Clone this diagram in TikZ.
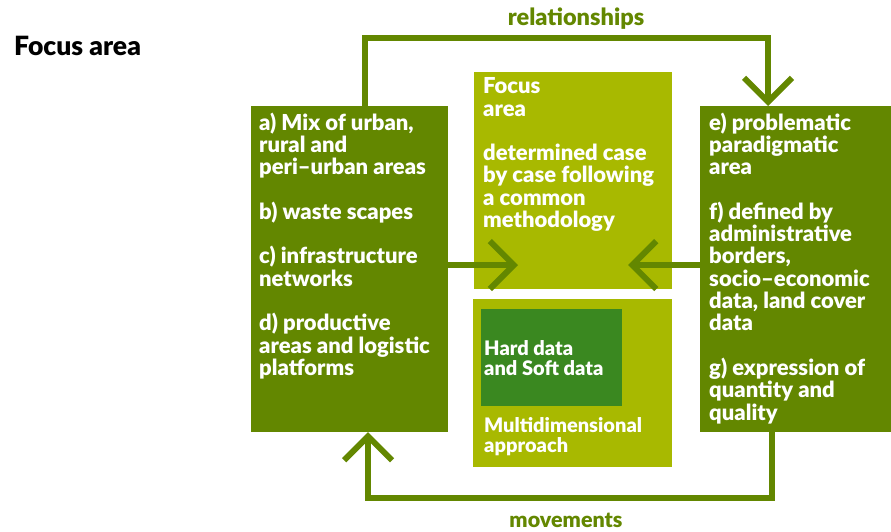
\documentclass[tikz,border=0pt]{standalone}
\usepackage{fontspec}
\setmainfont{Lato}[BoldFont={Lato Black}]
\usetikzlibrary{arrows.meta}
\definecolor{dk}{RGB}{99,135,0}
\definecolor{lt}{RGB}{168,185,0}
\definecolor{gr}{RGB}{58,136,32}
\tikzset{
  box/.style={draw=none, inner sep=0pt, outer sep=0pt, anchor=north west},
  txt/.style={inner sep=0pt, anchor=north west, align=left, text=white,
     font=\bfseries\fontsize{22}{22.3}\selectfont},
  stxt/.style={txt, font=\bfseries\fontsize{20}{20}\selectfont},
  conn/.style={draw=dk, line width=6pt},
  barb/.style={-{Straight Barb[length=24pt,width=48pt,line width=6pt]}},
  lbl/.style={text=dk, inner sep=0pt}
}
\begin{document}
\begin{tikzpicture}[x=1pt,y=-1pt]
\useasboundingbox (0,0) rectangle (891,531);
% title
\node[inner sep=0pt, anchor=west, font=\bfseries\fontsize{26.5}{28}\selectfont] (title) at (14,46) {Focus area};
% boxes
\node[box, fill=dk, minimum width=197pt, minimum height=326pt] (leftbox) at (251,106) {};
\node[box, fill=lt, minimum width=198pt, minimum height=217pt] (midtop) at (474,72) {};
\node[box, fill=lt, minimum width=199pt, minimum height=168pt] (midbot) at (473,299) {};
\node[box, fill=gr, minimum width=141pt, minimum height=97pt] (inner) at (481,309) {};
\node[box, fill=dk, minimum width=191pt, minimum height=326pt] (rightbox) at (700,106) {};
% texts
\node[txt] (ltext) at (259,112.5) {a) Mix of urban,\\rural and\\peri–urban areas\\[22.3pt]b) waste scapes\\[22.3pt]c) infrastructure\\networks\\[22.3pt]d) productive\\areas and logistic\\platforms};
\node[txt] (mtext) at (483,77.5) {Focus\\area\\[22.3pt]determined case\\by case following\\a common\\methodology};
\node[txt] (rtext) at (709,112.5) {e) problematic\\paradigmatic\\area\\[22.3pt]f) defined by\\administrative\\borders,\\socio–economic\\data, land cover\\data\\[22.3pt]g) expression of\\quantity and\\quality};
\node[stxt] (itext) at (484,340.5) {Hard data\\and Soft data};
\node[stxt] (btext) at (484,417.5) {Multidimensional\\approach};
% labels
\node[lbl, font=\bfseries\fontsize{23.5}{24}\selectfont] (rel) at (576,19) {relationships};
\node[lbl, font=\bfseries\fontsize{21.5}{22}\selectfont] (mov) at (566,520) {movements};
% connectors
\coordinate (t1) at (365,38);
\coordinate (t2) at (768,38);
\coordinate (b1) at (772,498);
\coordinate (b2) at (368,498);
\coordinate (la) at (518,265);
\coordinate (ra) at (628,265);
\draw[conn, barb] (leftbox.north -| t1) -- (t1) -- (t2) -- (rightbox.north -| t2);
\draw[conn, barb] (rightbox.south -| b1) -- (b1) -- (b2) -- (leftbox.south -| b2);
\draw[conn, barb] (leftbox.east |- la) -- (la);
\draw[conn, barb] (rightbox.west |- ra) -- (ra);
\end{tikzpicture}
\end{document}
